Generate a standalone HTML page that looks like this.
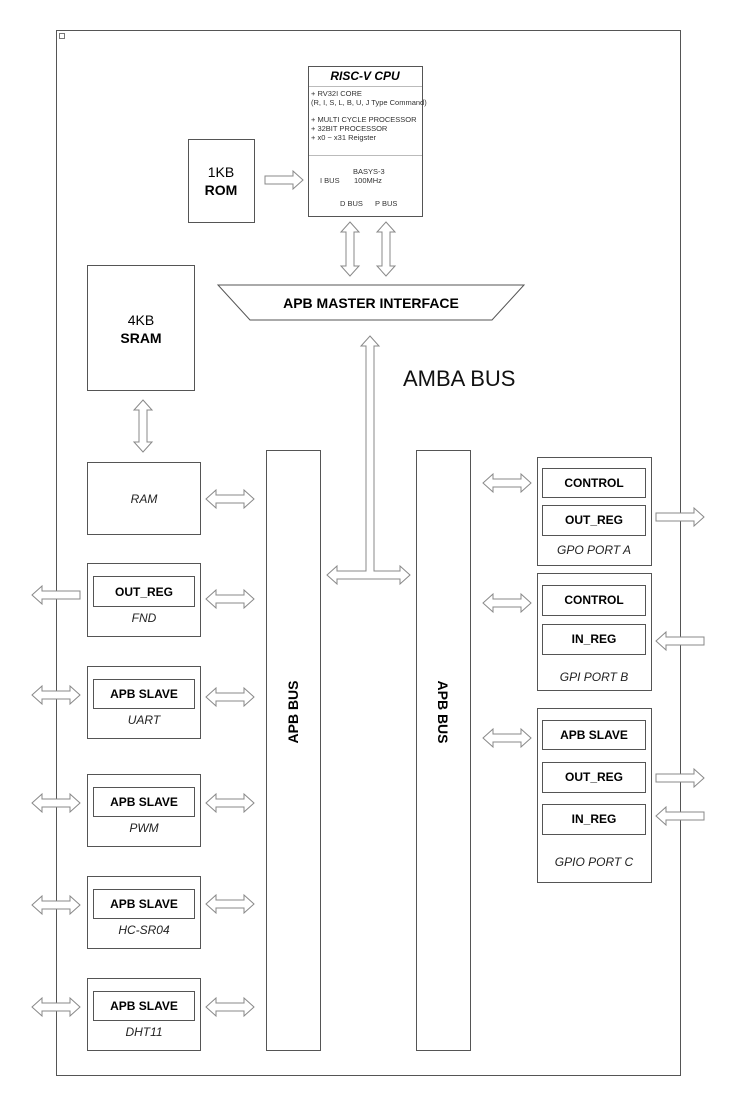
<!DOCTYPE html>
<html><head><meta charset="utf-8"><style>
html,body{margin:0;padding:0;background:#fff;}
svg{display:block;font-family:"Liberation Sans",Arial,sans-serif;}
.b{fill:#fff;stroke:#555;stroke-width:1;}
.a{fill:#fff;stroke:#888;stroke-width:1;}
.l{font-weight:bold;font-size:12px;text-anchor:middle;fill:#000;}
.i{font-style:italic;font-size:12px;text-anchor:middle;fill:#222;}
.s{font-size:7.5px;fill:#333;}
</style></head><body>
<svg width="741" height="1118" viewBox="0 0 741 1118" xmlns="http://www.w3.org/2000/svg">
<defs>
<polygon id="d" points="0,0 10,-9 10,-4 38,-4 38,-9 48,0 38,9 38,4 10,4 10,9"/>
<polygon id="r" points="0,-4 38,-4 38,-9 48,0 38,9 38,4 0,4"/>
<polygon id="lf" points="48,-4 10,-4 10,-9 0,0 10,9 10,4 48,4"/>
</defs>
<rect x="56.5" y="30.5" width="624" height="1045" class="b"/>
<rect x="59.5" y="33.5" width="5" height="5" fill="none" stroke="#777"/>

<!-- CPU -->
<rect x="308.5" y="66.5" width="114" height="150" class="b"/>
<text x="365" y="80" font-size="12" font-weight="bold" font-style="italic" text-anchor="middle">RISC-V CPU</text>
<line x1="309" y1="86.5" x2="422" y2="86.5" stroke="#bbb"/>
<text x="311" y="96" class="s">+ RV32I CORE</text>
<text x="311" y="105" class="s">(R, I, S, L, B, U, J Type Command)</text>
<text x="311" y="122" class="s">+ MULTI CYCLE PROCESSOR</text>
<text x="311" y="131" class="s">+ 32BIT PROCESSOR</text>
<text x="311" y="140" class="s">+ x0 ~ x31 Reigster</text>
<line x1="309" y1="155.5" x2="422" y2="155.5" stroke="#bbb"/>
<text x="353" y="174" class="s">BASYS-3</text>
<text x="354" y="183" class="s">100MHz</text>
<text x="320" y="183" class="s">I BUS</text>
<text x="340" y="206" class="s">D BUS</text>
<text x="375" y="206" class="s">P BUS</text>

<!-- ROM -->
<rect x="188.5" y="139.5" width="66" height="83" class="b"/>
<text x="221" y="177" font-size="14" text-anchor="middle">1KB</text>
<text x="221" y="195" font-size="14" font-weight="bold" text-anchor="middle">ROM</text>
<polygon class="a" points="265,176 293,176 293,171 303,180 293,189 293,184 265,184"/>

<!-- CPU arrows -->
<polygon class="a" points="350,222 359,232 354,232 354,266 359,266 350,276 341,266 346,266 346,232 341,232"/>
<polygon class="a" points="386,222 395,232 390,232 390,266 395,266 386,276 377,266 382,266 382,232 377,232"/>

<!-- APB master -->
<polygon class="b" points="218,285 524,285 492,320 250,320"/>
<text x="371" y="308" font-size="14" font-weight="bold" text-anchor="middle">APB MASTER INTERFACE</text>

<!-- SRAM -->
<rect x="87.5" y="265.5" width="107" height="125" class="b"/>
<text x="141" y="325" font-size="14" text-anchor="middle">4KB</text>
<text x="141" y="343" font-size="14" font-weight="bold" text-anchor="middle">SRAM</text>
<polygon class="a" points="143,400 152,410 147,410 147,442 152,442 143,452 134,442 139,442 139,410 134,410"/>

<text x="403" y="386" font-size="22" fill="#111">AMBA BUS</text>

<polygon class="a" points="370,336 379,346 374,346 374,571 400,571 400,566 410,575 400,584 400,579 337,579 337,584 327,575 337,566 337,571 366,571 366,346 361,346"/>

<!-- APB buses -->
<rect x="266.5" y="450.5" width="54" height="600" class="b"/>
<text transform="translate(298,712) rotate(-90)" font-size="14" font-weight="bold" text-anchor="middle">APB BUS</text>
<rect x="416.5" y="450.5" width="54" height="600" class="b"/>
<text transform="translate(438,712) rotate(90)" font-size="14" font-weight="bold" text-anchor="middle">APB BUS</text>

<!-- left modules -->
<rect x="87.5" y="462.5" width="113" height="72" class="b"/>
<text x="144" y="503" class="i">RAM</text>

<rect x="87.5" y="563.5" width="113" height="73" class="b"/>
<rect x="93.5" y="576.5" width="101" height="30" class="b"/>
<text x="144" y="596" class="l">OUT_REG</text>
<text x="144" y="622" class="i">FND</text>

<rect x="87.5" y="666.5" width="113" height="72" class="b"/>
<rect x="93.5" y="679.5" width="101" height="29" class="b"/>
<text x="144" y="698" class="l">APB SLAVE</text>
<text x="144" y="724" class="i">UART</text>

<rect x="87.5" y="774.5" width="113" height="72" class="b"/>
<rect x="93.5" y="787.5" width="101" height="29" class="b"/>
<text x="144" y="806" class="l">APB SLAVE</text>
<text x="144" y="832" class="i">PWM</text>

<rect x="87.5" y="876.5" width="113" height="72" class="b"/>
<rect x="93.5" y="889.5" width="101" height="29" class="b"/>
<text x="144" y="908" class="l">APB SLAVE</text>
<text x="144" y="934" class="i">HC-SR04</text>

<rect x="87.5" y="978.5" width="113" height="72" class="b"/>
<rect x="93.5" y="991.5" width="101" height="29" class="b"/>
<text x="144" y="1010" class="l">APB SLAVE</text>
<text x="144" y="1036" class="i">DHT11</text>

<g class="a">
<use href="#d" x="206" y="499"/>
<use href="#d" x="206" y="599"/>
<use href="#d" x="206" y="697"/>
<use href="#d" x="206" y="803"/>
<use href="#d" x="206" y="904"/>
<use href="#d" x="206" y="1007"/>
<use href="#lf" x="32" y="595"/>
<use href="#d" x="32" y="695"/>
<use href="#d" x="32" y="803"/>
<use href="#d" x="32" y="905"/>
<use href="#d" x="32" y="1007"/>
<use href="#d" x="483" y="483"/>
<use href="#d" x="483" y="603"/>
<use href="#d" x="483" y="738"/>
<use href="#r" x="656" y="517"/>
<use href="#lf" x="656" y="641"/>
<use href="#r" x="656" y="778"/>
<use href="#lf" x="656" y="816"/>
</g>

<!-- right modules -->
<rect x="537.5" y="457.5" width="114" height="108" class="b"/>
<rect x="542.5" y="468.5" width="103" height="29" class="b"/>
<text x="594" y="487" class="l">CONTROL</text>
<rect x="542.5" y="505.5" width="103" height="30" class="b"/>
<text x="594" y="524" class="l">OUT_REG</text>
<text x="594" y="554" class="i">GPO PORT A</text>

<rect x="537.5" y="573.5" width="114" height="117" class="b"/>
<rect x="542.5" y="585.5" width="103" height="30" class="b"/>
<text x="594" y="604" class="l">CONTROL</text>
<rect x="542.5" y="624.5" width="103" height="30" class="b"/>
<text x="594" y="643" class="l">IN_REG</text>
<text x="594" y="681" class="i">GPI PORT B</text>

<rect x="537.5" y="708.5" width="114" height="174" class="b"/>
<rect x="542.5" y="720.5" width="103" height="29" class="b"/>
<text x="594" y="739" class="l">APB SLAVE</text>
<rect x="542.5" y="762.5" width="103" height="30" class="b"/>
<text x="594" y="781" class="l">OUT_REG</text>
<rect x="542.5" y="804.5" width="103" height="30" class="b"/>
<text x="594" y="823" class="l">IN_REG</text>
<text x="594" y="866" class="i">GPIO PORT C</text>
</svg>
</body></html>
